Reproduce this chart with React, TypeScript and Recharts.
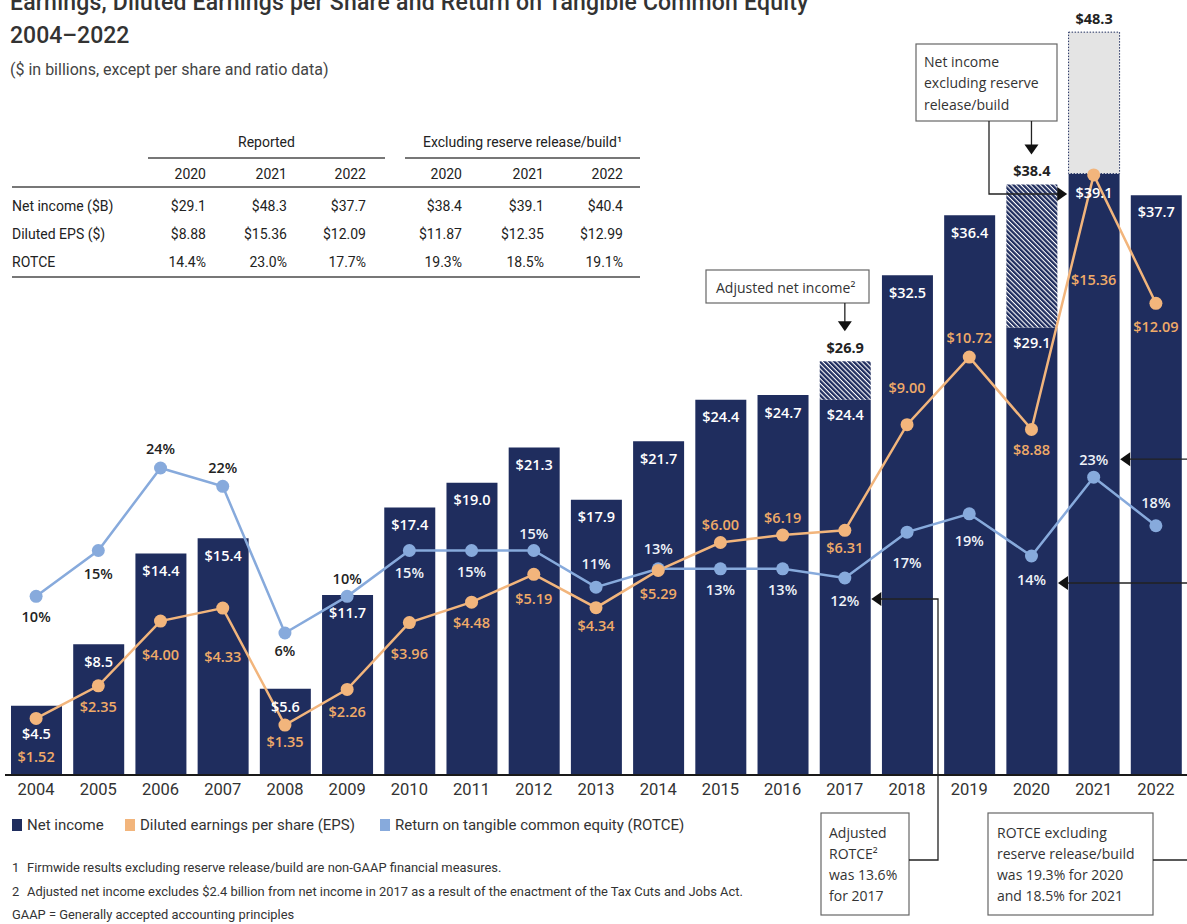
import React from "react";
import { ComposedChart, Bar, Line, XAxis, YAxis, LabelList } from "recharts";

const years = [
  "2004", "2005", "2006", "2007", "2008", "2009", "2010", "2011", "2012", "2013",
  "2014", "2015", "2016", "2017", "2018", "2019", "2020", "2021", "2022",
];
// reported net income ($B)
const netIncome = [
  4.5, 8.5, 14.4, 15.4, 5.6, 11.7, 17.4, 19.0, 21.3, 17.9,
  21.7, 24.4, 24.7, 24.4, 32.5, 36.4, 29.1, 48.3, 37.7,
];
// adjusted (2017) / excluding reserve release/build (2020, 2021)
const netIncomeAdjusted: (number | null)[] = [
  null, null, null, null, null, null, null, null, null, null,
  null, null, null, 26.9, null, null, 38.4, 39.1, null,
];
const eps = [
  1.52, 2.35, 4.0, 4.33, 1.35, 2.26, 3.96, 4.48, 5.19, 4.34,
  5.29, 6.0, 6.19, 6.31, 9.0, 10.72, 8.88, 15.36, 12.09,
];
const rotce = [
  10, 15, 24, 22, 6, 10, 15, 15, 15, 11,
  13, 13, 13, 12, 17, 19, 14.4, 23.0, 17.7,
];

const tableYears = ["2020", "2021", "2022"];
const tableRowNames = ["Net income ($B)", "Diluted EPS ($)", "ROTCE"];
const reportedValues = [
  ["$29.1", "$48.3", "$37.7"],
  ["$8.88", "$15.36", "$12.09"],
  ["14.4%", "23.0%", "17.7%"],
];
const excludingValues = [
  ["$38.4", "$39.1", "$40.4"],
  ["$11.87", "$12.35", "$12.99"],
  ["19.3%", "18.5%", "19.1%"],
];

// label placement (px from the mark)
const niLabelDy = [28, 17, 17, 17, 18, 17, 17, 17, 17, 17, 17, 17, 17, 15, 17, 17, 15, 19, 16];
const epsLabelDy = [38, 21, 33, 48, 16, 22, 31, 20, 24, 18, 23, -18, -18, 17, -37, -20, 20, 105, 23];
const rotceLabelDy = [20, 23, -20, -19, 17, -18, 22, 21, -17, -24, -20, 21, 21, 22, 30, 27, 23, -18, -23];

const NAVY = "#1f2d5e";
const ORANGE = "#f2b57c";
const ORANGE_TEXT = "#efaa68";
const BLUE = "#87aadc";

const PLOT = { left: 5, top: 6, width: 1182, height: 769 };
const BAND = PLOT.width / years.length;
const BAR = 51;
const NI_DOMAIN: [number, number] = [0, 50];
const EPS_DOMAIN: [number, number] = [0.08, 19.66];
const ROTCE_DOMAIN: [number, number] = [-9.49, 74.4];

const xc = (i: number) => PLOT.left + BAND * (i + 0.5);
const yOf = (d: [number, number], v: number) =>
  PLOT.top + PLOT.height * (1 - (v - d[0]) / (d[1] - d[0]));

const rows = years.map((year, i) => {
  const ni = netIncome[i];
  const adj = netIncomeAdjusted[i];
  return {
    year,
    base: adj != null ? Math.min(ni, adj) : ni,
    hatch: adj != null && adj > ni ? +(adj - ni).toFixed(1) : null,
    gray: adj != null && adj < ni ? +(ni - adj).toFixed(1) : null,
    eps: eps[i],
    rotce: rotce[i],
  };
});

const valueFont: React.CSSProperties = {
  fontFamily: "'Open Sans', sans-serif",
  fontSize: 14.5,
  fontWeight: 600,
};

const g = (p: any, k: string) => (p[k] ?? p.viewBox?.[k]) as number;
// category index from the mark's x position (label index can skip empty bars)
const idx = (p: any) =>
  Math.max(0, Math.min(years.length - 1, Math.floor((g(p, "x") + (g(p, "width") || 0) / 2 - PLOT.left) / BAND)));

const BaseLabel = (p: any) => {
  const i = idx(p);
  const x = g(p, "x") + g(p, "width") / 2;
  return (
    <text x={x} y={g(p, "y") + niLabelDy[i]} fill="#fff" textAnchor="middle" dominantBaseline="central" style={valueFont}>
      {"$" + rows[i].base.toFixed(1)}
    </text>
  );
};

const TopLabel = (p: any, kind: "hatch" | "gray") => {
  const i = idx(p);
  if (rows[i][kind] == null) return null;
  const total = kind === "hatch" ? netIncomeAdjusted[i]! : netIncome[i];
  const x = g(p, "x") + g(p, "width") / 2;
  return (
    <text x={x} y={g(p, "y") - 14} fill="#222" textAnchor="middle" dominantBaseline="central" style={{ ...valueFont, fontWeight: 700 }}>
      {"$" + total.toFixed(1)}
    </text>
  );
};

const EpsLabel = (p: any) => {
  const i = idx(p);
  return (
    <text x={g(p, "x")} y={g(p, "y") + epsLabelDy[i]} fill={ORANGE_TEXT} textAnchor="middle" dominantBaseline="central" style={valueFont}>
      {"$" + eps[i].toFixed(2)}
    </text>
  );
};

const RotceLabel = (p: any) => {
  const i = idx(p);
  const ly = g(p, "y") + rotceLabelDy[i];
  const top = yOf(NI_DOMAIN, Math.max(netIncome[i], netIncomeAdjusted[i] ?? 0));
  const inside = ly > top + 6;
  return (
    <text x={g(p, "x")} y={ly} fill={inside ? "#eef2f8" : "#222"} textAnchor="middle" dominantBaseline="central" style={valueFont}>
      {Math.round(rotce[i]) + "%"}
    </text>
  );
};

const YearTick = (p: any) => (
  <text x={p.x} y={p.y + 6} textAnchor="middle" dominantBaseline="central" fill="#333" style={{ fontFamily: "Roboto", fontSize: 16.5 }}>
    {p.payload.value}
  </text>
);

const abs = (left: number, top: number, extra: React.CSSProperties = {}): React.CSSProperties => ({
  position: "absolute",
  left,
  top,
  whiteSpace: "nowrap",
  ...extra,
});

function Header() {
  const t: React.CSSProperties = { fontSize: 23, fontWeight: 500, color: "#333", lineHeight: "23px" };
  return (
    <>
      <div style={abs(10, -9, { ...t, letterSpacing: 0.2 })}>
        Earnings, Diluted Earnings per Share and Return on Tangible Common Equity
      </div>
      <div style={abs(10, 24, t)}>2004–2022</div>
      <div style={abs(10, 61, { fontSize: 16, color: "#444", lineHeight: "18px" })}>
        ($ in billions, except per share and ratio data)
      </div>
    </>
  );
}

function Table() {
  const colRight = [206, 287, 366, 462, 544, 623];
  const rowY = [206, 234, 262];
  const cell: React.CSSProperties = { fontSize: 14, color: "#222", lineHeight: "18px" };
  const right = (r: number, cy: number, text: string, k: string) => (
    <div key={k} style={abs(r - 120, cy - 9, { ...cell, width: 120, textAlign: "right" })}>{text}</div>
  );
  const line = (x1: number, x2: number, y: number, k: string) => (
    <div key={k} style={{ position: "absolute", left: x1, top: y, width: x2 - x1, height: 1.5, background: "#777" }} />
  );
  return (
    <>
      <div style={abs(148, 133, { ...cell, width: 237, textAlign: "center" })}>Reported</div>
      <div style={abs(405, 133, { ...cell, width: 235, textAlign: "center" })}>Excluding reserve release/build¹</div>
      {line(148, 385, 157, "l1")}
      {line(405, 640, 157, "l2")}
      {line(12, 640, 186, "l3")}
      {line(12, 640, 276, "l4")}
      {[...tableYears, ...tableYears].map((y, j) => right(colRight[j], 174, y, "y" + j))}
      {tableRowNames.map((n, r) => (
        <div key={"n" + r} style={abs(12, rowY[r] - 9, cell)}>{n}</div>
      ))}
      {tableRowNames.map((_, r) =>
        [...reportedValues[r], ...excludingValues[r]].map((v, j) => right(colRight[j], rowY[r], v, `v${r}-${j}`))
      )}
    </>
  );
}

function Annotations() {
  const box = { fill: "#fff", stroke: "#666", strokeWidth: 1.2 };
  const ln = { stroke: "#222", strokeWidth: 1.3, fill: "none" };
  const txt: React.CSSProperties = { fontFamily: "'Open Sans', sans-serif", fontSize: 14, fill: "#333" };
  const down = (x: number, y: number) => `${x - 7},${y - 10} ${x + 7},${y - 10} ${x},${y}`;
  const right = (x: number, y: number) => `${x - 10},${y - 7} ${x - 10},${y + 7} ${x},${y}`;
  const left = (x: number, y: number) => `${x + 10},${y - 7} ${x + 10},${y + 7} ${x},${y}`;

  const adjTipY = yOf(NI_DOMAIN, netIncomeAdjusted[13]!) - 30;
  const exTipY = yOf(NI_DOMAIN, netIncomeAdjusted[16]!) - 30;
  const r21 = xc(17) - BAR / 2 - 1;
  const rot17 = xc(13) + BAR / 2 + 1;
  const rot21 = xc(17) + BAR / 2 + 1;
  const rot20 = xc(16) + BAR / 2 + 1;
  const y17 = yOf(ROTCE_DOMAIN, rotce[13]) + rotceLabelDy[13] - 1;
  const y21 = yOf(ROTCE_DOMAIN, rotce[17]) + rotceLabelDy[17];
  const y20 = 583;

  return (
    <svg width={1187} height={924} style={{ position: "absolute", left: 0, top: 0, pointerEvents: "none" }}>
      {/* Adjusted net income */}
      <rect x={706} y={270} width={163} height={33} {...box} />
      <text x={716} y={287} dominantBaseline="central" style={txt}>Adjusted net income²</text>
      <line x1={xc(13)} y1={303} x2={xc(13)} y2={adjTipY - 9} {...ln} />
      <polygon points={down(xc(13), adjTipY)} fill="#111" />

      {/* Net income excluding reserve release/build */}
      <rect x={916} y={44} width={141} height={77} {...box} />
      {["Net income", "excluding reserve", "release/build"].map((s, k) => (
        <text key={k} x={924} y={61 + k * 21.5} dominantBaseline="central" style={txt}>{s}</text>
      ))}
      <line x1={xc(16)} y1={121} x2={xc(16)} y2={exTipY - 9} {...ln} />
      <polygon points={down(xc(16), exTipY)} fill="#111" />
      <polyline points={`989,121 989,194 ${r21 - 9},194`} {...ln} />
      <polygon points={right(r21, 194)} fill="#111" />

      {/* Adjusted ROTCE */}
      <rect x={821} y={813} width={88} height={102} {...box} />
      {["Adjusted", "ROTCE²", "was 13.6%", "for 2017"].map((s, k) => (
        <text key={k} x={829} y={832 + k * 21} dominantBaseline="central" style={txt}>{s}</text>
      ))}
      <polyline points={`909,860 938,860 938,${y17} ${rot17 + 9},${y17}`} {...ln} />
      <polygon points={left(rot17, y17)} fill="#111" />

      {/* ROTCE excluding reserve release/build */}
      <rect x={988} y={813} width={165} height={102} {...box} />
      {["ROTCE excluding", "reserve release/build", "was 19.3% for 2020", "and 18.5% for 2021"].map((s, k) => (
        <text key={k} x={997} y={832 + k * 21} dominantBaseline="central" style={txt}>{s}</text>
      ))}
      <polyline points={`1153,860 1187,860`} {...ln} />
      <polyline points={`1187,${y21} ${rot21 + 9},${y21}`} {...ln} />
      <polygon points={left(rot21, y21)} fill="#111" />
      <polyline points={`1187,${y20} ${rot20 + 9},${y20}`} {...ln} />
      <polygon points={left(rot20, y20)} fill="#111" />
    </svg>
  );
}

function Legend() {
  const items = [
    { label: "Net income", color: NAVY, x: 12 },
    { label: "Diluted earnings per share (EPS)", color: ORANGE, x: 125 },
    { label: "Return on tangible common equity (ROTCE)", color: BLUE, x: 380 },
  ];
  return (
    <>
      {items.map((it) => (
        <div key={it.label} style={abs(it.x, 816, { display: "flex", alignItems: "center", fontSize: 15, color: "#333", lineHeight: "18px" })}>
          <span style={{ display: "inline-block", width: 10, height: 12, background: it.color, marginRight: 5 }} />
          {it.label}
        </div>
      ))}
    </>
  );
}

function Footnotes() {
  const f: React.CSSProperties = { fontSize: 12.9, color: "#333", lineHeight: "16px" };
  return (
    <>
      <div style={abs(12, 860, f)}>1</div>
      <div style={abs(27, 860, f)}>Firmwide results excluding reserve release/build are non-GAAP financial measures.</div>
      <div style={abs(12, 884, f)}>2</div>
      <div style={abs(27, 884, f)}>
        Adjusted net income excludes $2.4 billion from net income in 2017 as a result of the enactment of the Tax Cuts and Jobs Act.
      </div>
      <div style={abs(12, 907, f)}>GAAP = Generally accepted accounting principles</div>
    </>
  );
}

export default function App() {
  return (
    <div
      style={{
        position: "absolute",
        left: 0,
        top: 0,
        width: 1187,
        height: 924,
        overflow: "hidden",
        background: "#fff",
        fontFamily: "Roboto, sans-serif",
      }}
    >
      <svg width={0} height={0} style={{ position: "absolute" }}>
        <defs>
          <pattern id="hatch" width={3.4} height={3.4} patternUnits="userSpaceOnUse" patternTransform="rotate(-45)">
            <rect width={3.4} height={3.4} fill="#fff" />
            <rect width={2.3} height={3.4} fill={NAVY} />
          </pattern>
        </defs>
      </svg>
      <Header />
      <Table />
      <div style={{ position: "absolute", left: 0, top: 0 }}>
        <ComposedChart
          width={1187}
          height={810}
          data={rows}
          margin={{ top: PLOT.top, right: 1187 - PLOT.left - PLOT.width, bottom: 0, left: PLOT.left }}
        >
          <XAxis
            dataKey="year"
            height={35}
            interval={0}
            tickLine={false}
            axisLine={{ stroke: "#1a1a1a", strokeWidth: 2 }}
            tick={YearTick}
          />
          <YAxis yAxisId="ni" domain={NI_DOMAIN} allowDataOverflow hide />
          <YAxis yAxisId="eps" domain={EPS_DOMAIN} allowDataOverflow hide />
          <YAxis yAxisId="rotce" domain={ROTCE_DOMAIN} allowDataOverflow hide />
          <Bar yAxisId="ni" dataKey="base" stackId="ni" fill={NAVY} barSize={BAR} isAnimationActive={false}>
            <LabelList dataKey="base" content={BaseLabel} />
          </Bar>
          <Bar yAxisId="ni" dataKey="hatch" stackId="ni" fill="url(#hatch)" barSize={BAR} isAnimationActive={false}>
            <LabelList dataKey="hatch" content={(p: any) => TopLabel(p, "hatch")} />
          </Bar>
          <Bar
            yAxisId="ni"
            dataKey="gray"
            stackId="ni"
            fill="#e4e4e4"
            stroke={NAVY}
            strokeWidth={1}
            strokeDasharray="1.5 1.5"
            barSize={BAR}
            isAnimationActive={false}
          >
            <LabelList dataKey="gray" content={(p: any) => TopLabel(p, "gray")} />
          </Bar>
          <Line
            yAxisId="rotce"
            dataKey="rotce"
            stroke={BLUE}
            strokeWidth={2.5}
            dot={{ r: 6.5, fill: BLUE, stroke: "none" }}
            activeDot={false}
            isAnimationActive={false}
          >
            <LabelList dataKey="rotce" content={RotceLabel} />
          </Line>
          <Line
            yAxisId="eps"
            dataKey="eps"
            stroke={ORANGE}
            strokeWidth={2.5}
            dot={{ r: 6.5, fill: ORANGE, stroke: "none" }}
            activeDot={false}
            isAnimationActive={false}
          >
            <LabelList dataKey="eps" content={EpsLabel} />
          </Line>
        </ComposedChart>
      </div>
      <Annotations />
      <Legend />
      <Footnotes />
    </div>
  );
}
